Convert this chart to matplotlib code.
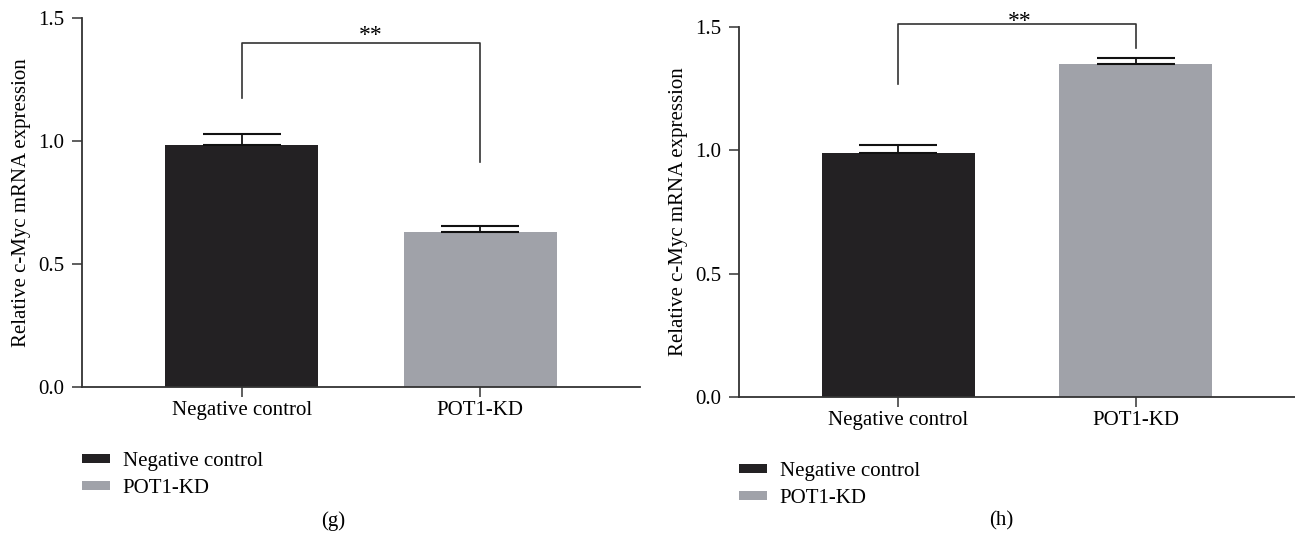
import numpy as np
import matplotlib
matplotlib.use('Agg')
import matplotlib.pyplot as plt
from matplotlib.patches import Patch

# Data
categories = ['Negative control', 'POT1-KD']
g_means = [0.985, 0.63]
g_errs = [0.045, 0.025]
h_means = [0.99, 1.35]
h_errs = [0.033, 0.023]

# significance brackets: top of bracket, left leg end, right leg end
g_bracket = [1.40, 1.176, 0.915]
h_bracket = [1.513, 1.27, 1.413]
sig_text = '**'

colors = ['#232123', '#a0a2a9']
axis_color = '#333333'

plt.rcParams['font.family'] = ['Liberation Serif', 'DejaVu Serif']
plt.rcParams['font.size'] = 15

fig = plt.figure(figsize=(12.95, 5.41), dpi=100)
ax_g = fig.add_axes([0.0633, 0.2847, 0.4309, 0.682])
ax_h = fig.add_axes([0.5707, 0.2662, 0.4293, 0.684])


def draw_panel(ax, means, errs, bracket):
    x = np.arange(len(categories))
    ax.bar(x, means, width=0.643, color=colors, zorder=2)
    # one sided error bars (upper only)
    ax.errorbar(x, means, yerr=[np.zeros(len(errs)), errs], fmt='none',
                ecolor='#111111', elinewidth=1.3, capsize=28, capthick=1.5, zorder=3)

    ax.set_xlim(-0.67, 1.67)
    ax.set_ylim(0, 1.5)
    ax.set_yticks([0.0, 0.5, 1.0, 1.5])
    ax.set_yticklabels(['0.0', '0.5', '1.0', '1.5'])
    ax.set_xticks(x)
    ax.set_xticklabels(categories)
    ax.tick_params(axis='both', direction='out', length=7, width=1.1, color=axis_color)
    ax.tick_params(axis='y', pad=6)
    ax.tick_params(axis='x', pad=3)

    for side in ['top', 'right']:
        ax.spines[side].set_visible(False)
    for side in ['left', 'bottom']:
        ax.spines[side].set_color(axis_color)
        ax.spines[side].set_linewidth(1.3)

    ax.set_ylabel('Relative c-Myc mRNA expression')
    ax.yaxis.set_label_coords(-0.092, 0.5)

    # significance bracket
    top, left_end, right_end = bracket
    ax.plot([x[0], x[0], x[1], x[1]], [left_end, top, top, right_end],
            color=axis_color, linewidth=1.2, clip_on=False, zorder=4)


draw_panel(ax_g, g_means, g_errs, g_bracket)
draw_panel(ax_h, h_means, h_errs, h_bracket)

ax_g.text(0.54, g_bracket[0] + 0.008, sig_text, ha='center', va='baseline', fontsize=17, clip_on=False)
ax_h.text(0.51, h_bracket[0] - 0.014, sig_text, ha='center', va='baseline', fontsize=17, clip_on=False)

# legends below each panel
handles = [Patch(facecolor=c, edgecolor='none') for c in colors]
fig.legend(handles, categories, loc='upper left', bbox_to_anchor=(82 / 1295, 1 - 452 / 541),
           frameon=False, handlelength=1.33, handleheight=0.35, handletextpad=0.63,
           labelspacing=0.38, borderpad=0, borderaxespad=0)
fig.legend(handles, categories, loc='upper left', bbox_to_anchor=(739 / 1295, 1 - 462 / 541),
           frameon=False, handlelength=1.33, handleheight=0.35, handletextpad=0.63,
           labelspacing=0.38, borderpad=0, borderaxespad=0)

# panel letters
fig.text(333 / 1295, 1 - 521 / 541, '(g)', ha='center', va='center', fontsize=15)
fig.text(1001 / 1295, 1 - 521 / 541, '(h)', ha='center', va='center', fontsize=15)

plt.savefig('out.png', dpi=100)
